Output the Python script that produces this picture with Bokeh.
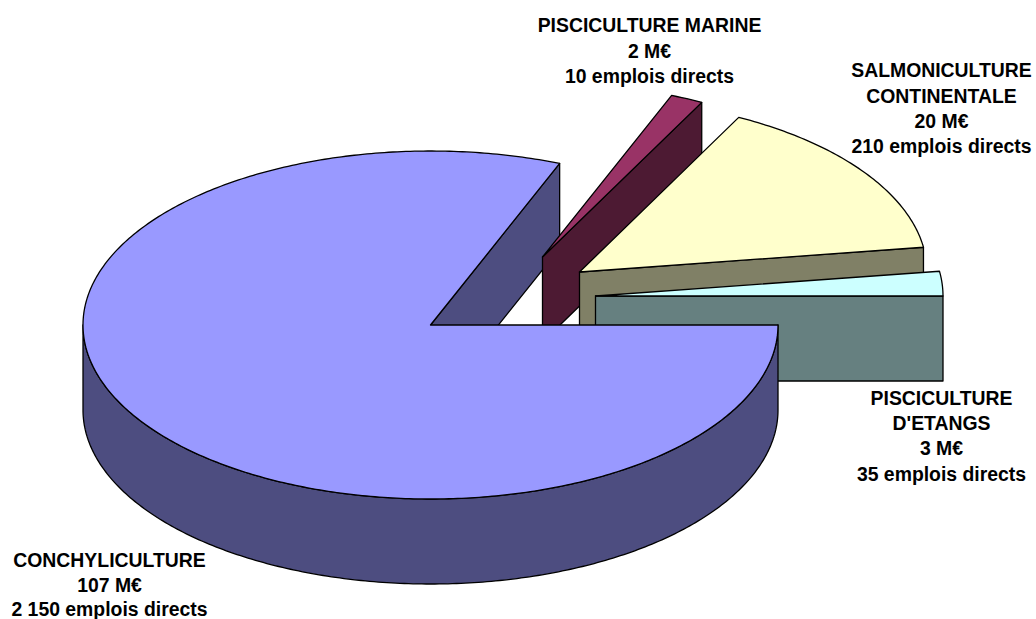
import numpy as np
from bokeh.plotting import figure
from bokeh.models import Range1d
from bokeh.core.properties import value
from bokeh.embed import file_html
from bokeh.resources import INLINE

# ---- data
categories = ["PISCICULTURE D'ETANGS", "SALMONICULTURE CONTINENTALE", "PISCICULTURE MARINE", "CONCHYLICULTURE"]
turnover_meur = [3, 20, 2, 107]
label_conch = ["CONCHYLICULTURE", "107 M€", "2 150 emplois directs"]
label_marine = ["PISCICULTURE MARINE", "2 M€", "10 emplois directs"]
label_salmon = ["SALMONICULTURE", "CONTINENTALE", "20 M€", "210 emplois directs"]
label_etangs = ["PISCICULTURE", "D'ETANGS", "3 M€", "35 emplois directs"]

# ---- layout / style (pixels of the window)
RX, RY, DEPTH = 347.5, 174.0, 85.0
APEX = {"etangs": (595, 295.5), "salmon": (579, 271.5), "marine": (542, 256.5), "conch": (430, 324.5)}
TOPS = {"etangs": "#CCFFFF", "salmon": "#FFFFCC", "marine": "#993366", "conch": "#9999FF"}
SIDES = {"etangs": "#668080", "salmon": "#808066", "marine": "#4D1A33", "conch": "#4D4D80"}
LW = 1.3

p = figure(width=1036, height=619, x_range=Range1d(0, 1036), y_range=Range1d(619, 0),
           output_backend="svg", toolbar_location=None, min_border=0, outline_line_color=None,
           background_fill_color="white", border_fill_color="white")
p.axis.visible = False
p.grid.visible = False

total = sum(turnover_meur)
spans = np.cumsum([0] + turnover_meur) / total * 2 * np.pi
angle = dict(zip(["etangs", "salmon", "marine", "conch"], zip(spans[:-1], spans[1:])))


def rim(key, a0, a1):
    cx, cy = APEX[key]
    t = np.linspace(a0, a1, max(int((a1 - a0) * 80), 2))
    return cx + RX * np.cos(t), cy - RY * np.sin(t)


def top(key):
    a0, a1 = angle[key]
    cx, cy = APEX[key]
    x, y = rim(key, a0, a1)
    p.patch(np.r_[cx, x], np.r_[cy, y], fill_color=TOPS[key], line_color="black", line_width=LW, line_join="round")


def cut(key, a):
    cx, cy = APEX[key]
    x, y = rim(key, a, a)
    ex, ey = x[0], y[0]
    p.patch([cx, ex, ex, cx], [cy, ey, ey + DEPTH, cy + DEPTH], fill_color=SIDES[key], line_color="black",
            line_width=LW, line_join="round")


# back to front
cut("conch", angle["conch"][0])
cut("marine", angle["marine"][0])
top("marine")
cut("salmon", angle["salmon"][0])
top("salmon")
cut("etangs", 0.0)
top("etangs")

# conchyliculture outer wall (lower half of the ellipse), then its top
x, y = rim("conch", np.pi, 2 * np.pi)
p.patch(np.r_[x, x[::-1]], np.r_[y, y[::-1] + DEPTH], fill_color=SIDES["conch"], line_color="black",
        line_width=LW, line_join="round")
top("conch")


def label(lines, cx, ys):
    p.text(x=[cx] * len(lines), y=ys, text=lines, text_font=value("Liberation Sans"), text_font_style="bold",
           text_font_size="19.4px", text_align="center", text_baseline="middle", text_color="black")


label(label_conch, 109, [559, 584, 608.5])
label(label_marine, 649, [24, 50, 75])
label(label_salmon, 941, [69, 95, 120, 145])
label(label_etangs, 941, [397, 422, 447, 473])

open("out.html", "w").write(file_html(p, INLINE))
